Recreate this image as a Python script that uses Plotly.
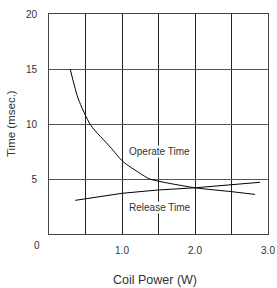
import plotly.graph_objects as go

# Data
operate_x = [0.29, 0.40, 0.57, 0.84, 1.01, 1.25, 1.38, 2.0, 2.5, 2.82]
operate_y = [15.0, 12.3, 9.9, 7.9, 6.6, 5.5, 5.0, 4.2, 3.85, 3.6]
release_x = [0.36, 1.0, 1.49, 2.0, 2.89]
release_y = [3.06, 3.7, 4.0, 4.2, 4.7]

x_ticks = [0, 0.5, 1.0, 1.5, 2.0, 2.5, 3.0]
x_ticktext = ["", "", "1.0", "", "2.0", "", "3.0"]
y_ticks = [0, 5, 10, 15, 20]
y_ticktext = ["", "5", "10", "15", "20"]

font = "Liberation Sans, Arial, sans-serif"

W, H = 277, 288
L, R, T, B = 49, 9, 14, 54
pw, ph = W - L - R, H - T - B


def px(xp):
    return (xp - L) / pw


def py(yp):
    return (H - B - yp) / ph


fig = go.Figure()
fig.add_trace(go.Scatter(x=operate_x, y=operate_y, mode="lines", line=dict(color="black", width=1, smoothing=0.6),
                         line_shape="spline", showlegend=False))
fig.add_trace(go.Scatter(x=release_x, y=release_y, mode="lines", line=dict(color="black", width=1), showlegend=False))

ann = dict(showarrow=False, xanchor="center", yanchor="middle")
fig.update_layout(
    width=W, height=H,
    margin=dict(l=L, r=R, t=T, b=B),
    paper_bgcolor="white", plot_bgcolor="white",
    font=dict(family=font, size=10, color="#333"),
    xaxis=dict(range=[0, 3], tickvals=x_ticks, ticktext=x_ticktext, showgrid=True, automargin=False,
               gridcolor="#222", gridwidth=1, showline=True, linecolor="#444", mirror=True,
               ticks="outside", ticklen=7, tickcolor="rgba(0,0,0,0)", zeroline=False),
    yaxis=dict(range=[0, 20], tickvals=y_ticks, ticktext=y_ticktext, showgrid=True, automargin=False,
               gridcolor="#555", gridwidth=1.3, showline=True, linecolor="#444", mirror=True,
               ticks="outside", ticklen=9, tickcolor="rgba(0,0,0,0)", zeroline=False),
    annotations=[
        dict(x=1.52, y=7.5, xref="x", yref="y", text="Operate Time",
             bgcolor="white", font=dict(size=10, color="#333"), borderpad=0, **ann),
        dict(x=1.52, y=2.4, xref="x", yref="y", text="Release Time",
             bgcolor="white", font=dict(size=10, color="#333"), borderpad=0, **ann),
        dict(x=px(37), y=py(246), xref="paper", yref="paper", text="0",
             font=dict(size=10, color="#333"), **ann),
        dict(x=px(155), y=py(280), xref="paper", yref="paper", text="Coil Power (W)",
             font=dict(size=12.5, color="#333"), **ann),
        dict(x=px(11), y=py(124), xref="paper", yref="paper", text="Time (msec.)",
             textangle=-90, font=dict(size=11.5, color="#333"), **ann),
    ],
)

fig.write_html("out.html", config={"displayModeBar": False},
               post_script="document.body.style.margin='0';document.body.style.padding='0';")
